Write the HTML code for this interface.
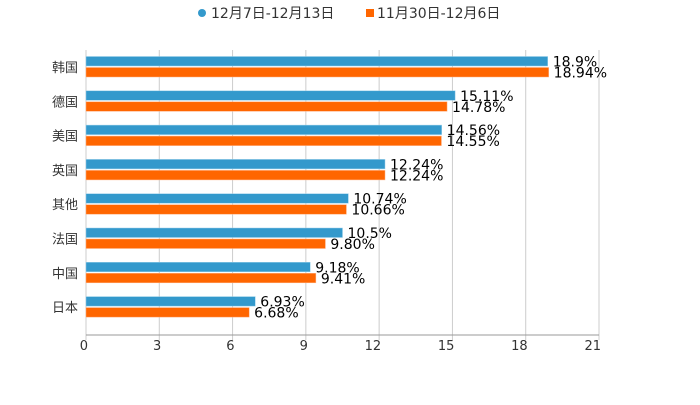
<!DOCTYPE html>
<html><head><meta charset="utf-8"><style>
body{margin:0;background:#fff}
svg text{font-family:"DejaVu Sans","Noto Sans CJK SC",sans-serif}
</style></head><body>
<svg id="c" width="700" height="400" xmlns="http://www.w3.org/2000/svg">
<g>
<g><circle cx="202" cy="13" r="4" fill="#3399cc"/><text x="211" y="18" font-size="14" fill="#333">12月7日-12月13日</text></g>
<g><rect x="366" y="9" width="8" height="8" fill="#ff6600"/><text x="377" y="18" font-size="14" fill="#333">11月30日-12月6日</text></g>
</g>
<g id="grid"></g>
<g id="bars"></g>
<g id="axes"></g>
</svg>
<script>
const categories=["韩国","德国","美国","英国","其他","法国","中国","日本"];
const seriesA=[18.9,15.11,14.56,12.24,10.74,10.5,9.18,6.93];
const seriesB=[18.94,14.78,14.55,12.24,10.66,9.80,9.41,6.68];
const labelsA=["18.9%","15.11%","14.56%","12.24%","10.74%","10.5%","9.18%","6.93%"];
const labelsB=["18.94%","14.78%","14.55%","12.24%","10.66%","9.80%","9.41%","6.68%"];
const ticks=[0,3,6,9,12,15,18,21];
const NS="http://www.w3.org/2000/svg";
const x0=86,x1=599,plotTop=50,axisY=335,c0=67,step=34.3;
const xs=v=>x0+(v/21)*(x1-x0);
const cy=i=>c0+i*step;
function mk(t,a,p){const e=document.createElementNS(NS,t);for(const k in a)e.setAttribute(k,a[k]);p.appendChild(e);return e;}
const g=document.getElementById('grid'),b=document.getElementById('bars'),ax=document.getElementById('axes');
ticks.forEach(t=>{
 const l=mk('line',{x1:xs(t),x2:xs(t),y1:plotTop,y2:axisY+5,stroke:'#ccc','stroke-width':1},g);
 
 
 const tx=mk('text',{x:xs(t)+2,y:axisY+15,'text-anchor':'end','font-size':13,fill:'#333'},ax);
 tx.textContent=t;
 
 
});
const al=mk('line',{x1:x0,x2:x1,y1:axisY,y2:axisY,stroke:'#999','stroke-width':1},ax);


categories.forEach((c,i)=>{
 const y=cy(i);
 const t=mk('text',{x:78,y:y+5,'text-anchor':'end','font-size':13,fill:'#333'},ax);
 t.textContent=c;
 
 
 const ra=mk('rect',{x:x0,y:y-10.5,width:xs(seriesA[i])-x0,height:9.5,fill:'#3399cc',stroke:'#9cd0ea','stroke-width':0.5},b);
 
 
 const rb=mk('rect',{x:x0,y:y+0.5,width:xs(seriesB[i])-x0,height:9.5,fill:'#ff6600',stroke:'#ffb080','stroke-width':0.5},b);
 
 
 const la=mk('text',{x:xs(seriesA[i])+5,y:y-0.5,'font-size':14,fill:'#000'},b);
 la.textContent=labelsA[i];
 
 
 const lb=mk('text',{x:xs(seriesB[i])+5,y:y+10.5,'font-size':14,fill:'#000'},b);
 lb.textContent=labelsB[i];
 
 
});
</script>
</body></html>
